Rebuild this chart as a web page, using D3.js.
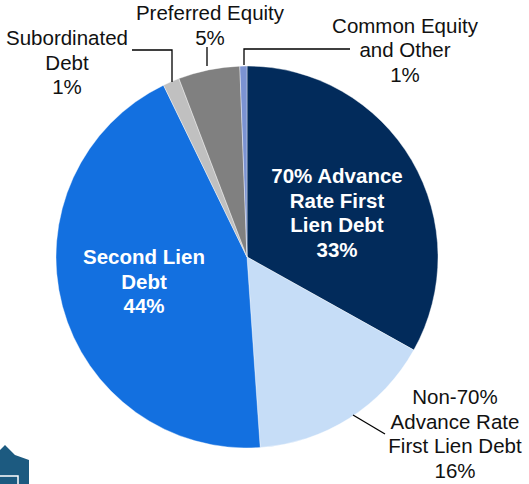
<!DOCTYPE html>
<html>
<head>
<meta charset="utf-8">
<script src="https://cdn.jsdelivr.net/npm/d3@7"></script>
<style>
  body { margin: 0; background: #fff; }
  svg { display: block; font-family: "Liberation Sans", Arial, sans-serif; }
</style>
</head>
<body>
<script>
// slice shares (labels are the rounded ones)
var categories = ["70% Advance Rate First Lien Debt", "Non-70% Advance Rate First Lien Debt",
  "Second Lien Debt", "Subordinated Debt", "Preferred Equity", "Common Equity and Other"];
var shares = [33.1, 15.8, 43.9, 1.4, 5.2, 0.6];
var pctLabels = ["33%", "16%", "44%", "1%", "5%", "1%"];
var colors = ["#022b5b", "#c6ddf7", "#1370e0", "#c0c0c0", "#808080", "#7b93d2"];

var width = 529, height = 484;
var cx = 247, cy = 257, radius = 191;

var svg = d3.select(document.body).append("svg")
  .attr("width", width)
  .attr("height", height);

var pie = d3.pie().sort(null).value(function(d) { return d; });
var arc = d3.arc().innerRadius(0).outerRadius(radius);

var g = svg.append("g").attr("transform", "translate(" + cx + "," + cy + ")");
g.selectAll("path.slice")
  .data(pie(shares))
  .enter().append("path")
  .attr("class", "slice")
  .attr("d", arc)
  .attr("fill", function(d, i) { return colors[i]; })
  .attr("stroke", "#fff")
  .attr("stroke-width", 0.4);

// leader lines
var leaders = [
  "M132,50 H172 V82",
  "M207,47 V66",
  "M350,49 H244 V65",
  "M353,415 L385,434"
];
svg.selectAll("path.leader")
  .data(leaders)
  .enter().append("path")
  .attr("class", "leader")
  .attr("d", function(d) { return d; })
  .attr("fill", "none")
  .attr("stroke", "#000")
  .attr("stroke-width", 1.3);

// labels: lines, centre x, first baseline, colour, bold
var labels = [
  { lines: ["70% Advance", "Rate First", "Lien Debt", pctLabels[0]], x: 337, y: 183, fill: "#fff", bold: true },
  { lines: ["Non-70%", "Advance Rate", "First Lien Debt", pctLabels[1]], x: 455, y: 404, fill: "#111", bold: false },
  { lines: ["Second Lien", "Debt", pctLabels[2]], x: 144, y: 264, fill: "#fff", bold: true },
  { lines: ["Subordinated", "Debt", pctLabels[3]], x: 67, y: 45, fill: "#111", bold: false },
  { lines: ["Preferred Equity", pctLabels[4]], x: 210, y: 20, fill: "#111", bold: false },
  { lines: ["Common Equity", "and Other", pctLabels[5]], x: 405, y: 32.5, fill: "#111", bold: false }
];

labels.forEach(function(l) {
  var t = svg.append("text")
    .attr("text-anchor", "middle")
    .attr("font-size", 20.5)
    .attr("font-weight", l.bold ? "bold" : "normal")
    .attr("fill", l.fill);
  l.lines.forEach(function(s, i) {
    t.append("tspan").attr("x", l.x).attr("y", l.y + i * 24.5).text(s);
  });
});

// logo fragment in the bottom-left corner
svg.append("path")
  .attr("d", "M0,450 L5,445 L15,455 L29,460 L29,484 L0,484 Z")
  .attr("fill", "#1c5a80");
svg.append("path")
  .attr("d", "M0,476 H18 V484")
  .attr("fill", "none")
  .attr("stroke", "#fff")
  .attr("stroke-width", 1.5);
</script>
</body>
</html>
